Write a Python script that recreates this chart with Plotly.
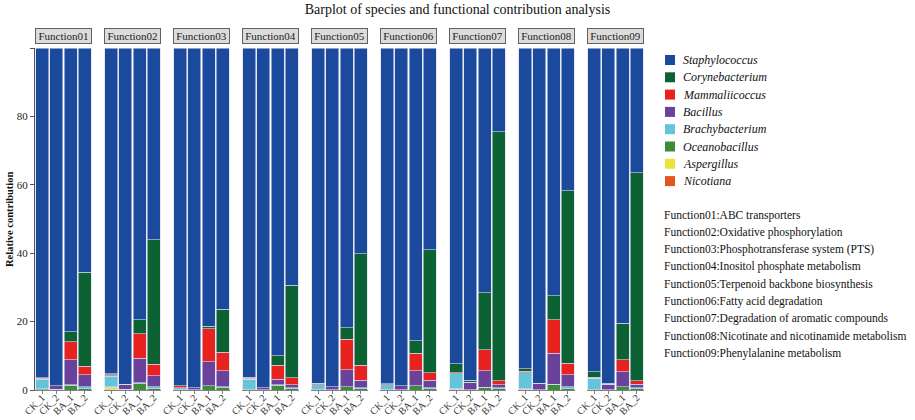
import plotly.graph_objects as go
from plotly.subplots import make_subplots

SERIF = "Liberation Serif"

functions = ["Function01", "Function02", "Function03", "Function04", "Function05",
             "Function06", "Function07", "Function08", "Function09"]
function_names = [
    "ABC transporters",
    "Oxidative phosphorylation",
    "Phosphotransferase system (PTS)",
    "Inositol phosphate metabolism",
    "Terpenoid backbone biosynthesis",
    "Fatty acid degradation",
    "Degradation of aromatic compounds",
    "Nicotinate and nicotinamide metabolism",
    "Phenylalanine metabolism",
]
samples = ["CK_1", "CK_2", "BA_1", "BA_2"]

# relative contribution per function, samples in order CK_1, CK_2, BA_1, BA_2
nicotiana = [[0.1, 0, 0, 0], [0.1, 0, 0, 0], [0, 0, 0, 0], [0, 0, 0, 0], [0, 0, 0, 0],
             [0, 0, 0, 0], [0.1, 0, 0, 0], [0.1, 0, 0, 0], [0, 0, 0, 0]]
aspergillus = [[0, 0, 0, 0], [0.7, 0, 0, 0], [0, 0, 0, 0], [0, 0, 0, 0], [0, 0, 0, 0],
               [0, 0, 0, 0], [0.1, 0, 0, 0], [0.1, 0, 0, 0], [0, 0, 0, 0]]
oceanobacillus = [[0.2, 0.1, 1.4, 0.3], [0.1, 0.1, 1.9, 0.5], [0.2, 0.1, 1.3, 0.7],
                  [0.2, 0.1, 1.4, 0.4], [0.2, 0.1, 1.0, 0.3], [0.2, 0.1, 1.2, 0.3],
                  [0.3, 0.1, 0.8, 0.3], [0.3, 0.1, 1.7, 0.4], [0.2, 0.1, 1.0, 0.3]]
brachybacterium = [[2.7, 0.1, 0.1, 0.6], [3.1, 0.1, 0.2, 0.5], [0.4, 0, 0, 0.2],
                   [2.9, 0, 0.1, 0.3], [1.3, 0, 0, 0.4], [1.3, 0, 0, 0.4],
                   [4.3, 0, 0, 0.3], [4.6, 0, 0, 0.6], [3.3, 0, 0, 0.4]]
bacillus = [[0.1, 1.0, 7.3, 3.6], [0.1, 1.5, 7.2, 3.2], [0.1, 0.6, 7.0, 4.7],
            [0, 0.5, 1.7, 0.8], [0, 0.9, 4.9, 2.2], [0, 1.1, 4.5, 2.2],
            [0, 2.1, 4.9, 0.9], [0, 1.9, 9.0, 3.4], [0, 1.6, 4.4, 1.0]]
mammaliicoccus = [[0.3, 0, 5.3, 2.5], [0.3, 0, 7.1, 3.3], [0.5, 0, 9.6, 5.5],
                  [0.4, 0, 4.0, 2.1], [0.4, 0, 9.0, 4.4], [0.3, 0, 5.0, 2.2],
                  [0.3, 0, 6.0, 1.2], [0.4, 0, 9.8, 3.4], [0.3, 0, 3.4, 1.0]]
corynebacterium = [[0.2, 0.1, 3.0, 27.5], [0.3, 0, 4.1, 36.4], [0, 0, 0.8, 12.5],
                   [0.2, 0, 2.8, 27.1], [0.1, 0, 3.3, 32.5], [0.1, 0, 3.7, 35.9],
                   [2.6, 0.7, 16.8, 72.8], [0.7, 0, 7.0, 50.4], [1.5, 0.3, 10.7, 60.8]]
staphylococcus = [[96.4, 98.7, 82.9, 65.5], [95.3, 98.3, 79.5, 56.1], [98.8, 99.3, 81.3, 76.4],
                  [96.3, 99.4, 90.0, 69.3], [98.0, 99.0, 81.8, 60.2], [98.1, 98.8, 85.6, 59.0],
                  [92.3, 97.1, 71.5, 24.5], [93.8, 98.0, 72.5, 41.8], [94.7, 98.0, 80.5, 36.5]]

# bottom of the stack first
species = [
    ("Nicotiana", nicotiana, "#e8521f"),
    ("Aspergillus", aspergillus, "#ebe33b"),
    ("Oceanobacillus", oceanobacillus, "#3c8c3a"),
    ("Brachybacterium", brachybacterium, "#62c5da"),
    ("Bacillus", bacillus, "#6a419b"),
    ("Mammaliicoccus", mammaliicoccus, "#e7221f"),
    ("Corynebacterium", corynebacterium, "#0c6233"),
    ("Staphylococcus", staphylococcus, "#1b4a9c"),
]

W, H = 915, 420
ML, MR, MT, MB = 35, 271, 48, 30
PW, PH = W - ML - MR, H - MT - MB


def px_x(x):
    return (x - ML) / PW


def px_y(y):
    return (H - MB - y) / PH


fig = make_subplots(rows=1, cols=len(functions), shared_yaxes=True,
                    horizontal_spacing=0.0197)

for i, fn in enumerate(functions):
    for name, values, color in species:
        fig.add_trace(go.Bar(
            x=samples, y=values[i], name=name, showlegend=False,
            marker=dict(color=color, line=dict(color="#d4daf0", width=0.6)),
        ), row=1, col=i + 1)
    fig.update_xaxes(
        row=1, col=i + 1, showline=True, linecolor="#808080", linewidth=1,
        ticks="outside", ticklen=3, tickcolor="#808080", tickangle=-45,
        ticklabelstandoff=-6,
        tickfont=dict(family=SERIF, size=10, color="#333"), range=[-0.5, 3.5],
        automargin=False,
    )
    xd = "x domain" if i == 0 else f"x{i + 1} domain"
    fig.add_annotation(
        text=fn, xref=xd, x=0.5, yref="paper", y=1, yanchor="bottom", yshift=4,
        showarrow=False, font=dict(family=SERIF, size=11, color="#222"),
        bgcolor="#dcdcdc", bordercolor="#606060", borderwidth=1, width=53, height=12,
    )

fig.update_yaxes(range=[0, 100], showline=False, ticks="", showticklabels=False,
                 automargin=False)
fig.update_yaxes(
    row=1, col=1, showline=True, linecolor="#555", ticks="outside", ticklen=4,
    tickcolor="#555", tickvals=[0, 20, 40, 60, 80, 100],
    ticktext=["0", "20", "40", "60", "80", ""], showticklabels=True,
    tickfont=dict(family=SERIF, size=11, color="#222"),
)

# legend drawn by hand so its spacing matches the reference
for k, (name, _, color) in enumerate(reversed(species)):
    yc = 60 + 17.3 * k
    fig.add_shape(type="rect", xref="paper", yref="paper",
                  x0=px_x(665), x1=px_x(675), y0=px_y(yc - 5), y1=px_y(yc + 5),
                  fillcolor=color, line=dict(width=0))
    fig.add_annotation(
        text=f"<i>{name}</i>", xref="paper", x=px_x(681), xanchor="left",
        yref="paper", y=px_y(yc), yanchor="middle", showarrow=False,
        font=dict(family=SERIF, size=12, color="#111"),
    )

for k, (fn, desc) in enumerate(zip(functions, function_names)):
    fig.add_annotation(
        text=f"{fn}:{desc}", xref="paper", x=px_x(662), xanchor="left",
        yref="paper", y=px_y(215 + 17.25 * k), yanchor="middle",
        showarrow=False, font=dict(family=SERIF, size=11.5, color="#111"),
    )

fig.add_annotation(
    text="<b>Relative contribution</b>", xref="paper", x=px_x(9), xanchor="center",
    yref="paper", y=0.5, yanchor="middle", textangle=-90, showarrow=False,
    font=dict(family=SERIF, size=10.5, color="#111"),
)

fig.update_layout(
    width=W, height=H,
    barmode="stack", bargap=0.08, showlegend=False,
    title=dict(text="Barplot of species and functional contribution analysis",
               x=0.5, xanchor="center", y=0.99, yanchor="top", automargin=False,
               font=dict(family=SERIF, size=14, color="#111")),
    margin=dict(l=ML, r=MR, t=MT, b=MB, autoexpand=False),
    plot_bgcolor="white", paper_bgcolor="white",
)

fig.write_html("out.html", config={"displayModeBar": False},
               post_script="document.body.style.margin = '0';")
